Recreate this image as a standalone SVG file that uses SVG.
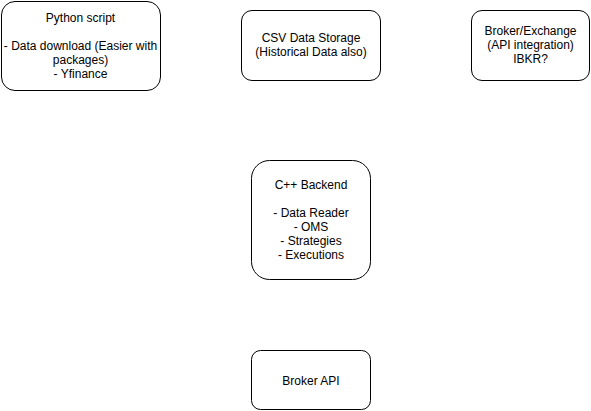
<svg xmlns="http://www.w3.org/2000/svg" width="591" height="411" viewBox="0 0 591 411">
<style>
.box{fill:#ffffff;stroke:#000000;stroke-width:1}
.t{font-family:"Liberation Sans",Arial,Helvetica,sans-serif;font-size:12px;fill:#000000;text-anchor:middle}
</style>
<rect width="591" height="411" fill="#ffffff"/>
<g id="python">
<rect class="box" x="1.5" y="1.5" width="159" height="89" rx="13.5" ry="13.5"/>
<text class="t" x="80.5" y="21.5">Python script</text>
<text class="t" x="80.5" y="49.5">- Data download (Easier with</text>
<text class="t" x="80.5" y="63.5">packages)</text>
<text class="t" x="80.5" y="77.5">- Yfinance</text>
</g>
<g id="csv">
<rect class="box" x="241.5" y="10.5" width="139" height="70" rx="10.5" ry="10.5"/>
<text class="t" x="311" y="42">CSV Data Storage</text>
<text class="t" x="311" y="56">(Historical Data also)</text>
</g>
<g id="broker-exchange">
<rect class="box" x="471.5" y="10.5" width="118" height="70" rx="10.5" ry="10.5"/>
<text class="t" x="530.5" y="35">Broker/Exchange</text>
<text class="t" x="530.5" y="49">(API integration)</text>
<text class="t" x="530.5" y="63">IBKR?</text>
</g>
<g id="cpp-backend">
<rect class="box" x="251.5" y="160.5" width="119" height="119" rx="18" ry="18"/>
<text class="t" x="311" y="189">C++ Backend</text>
<text class="t" x="311" y="217">- Data Reader</text>
<text class="t" x="311" y="231">- OMS</text>
<text class="t" x="311" y="245">- Strategies</text>
<text class="t" x="311" y="259">- Executions</text>
</g>
<g id="broker-api">
<rect class="box" x="251.5" y="350.5" width="119" height="59" rx="9" ry="9"/>
<text class="t" x="311" y="384.5">Broker API</text>
</g>
<g id="connectors"></g>
</svg>
